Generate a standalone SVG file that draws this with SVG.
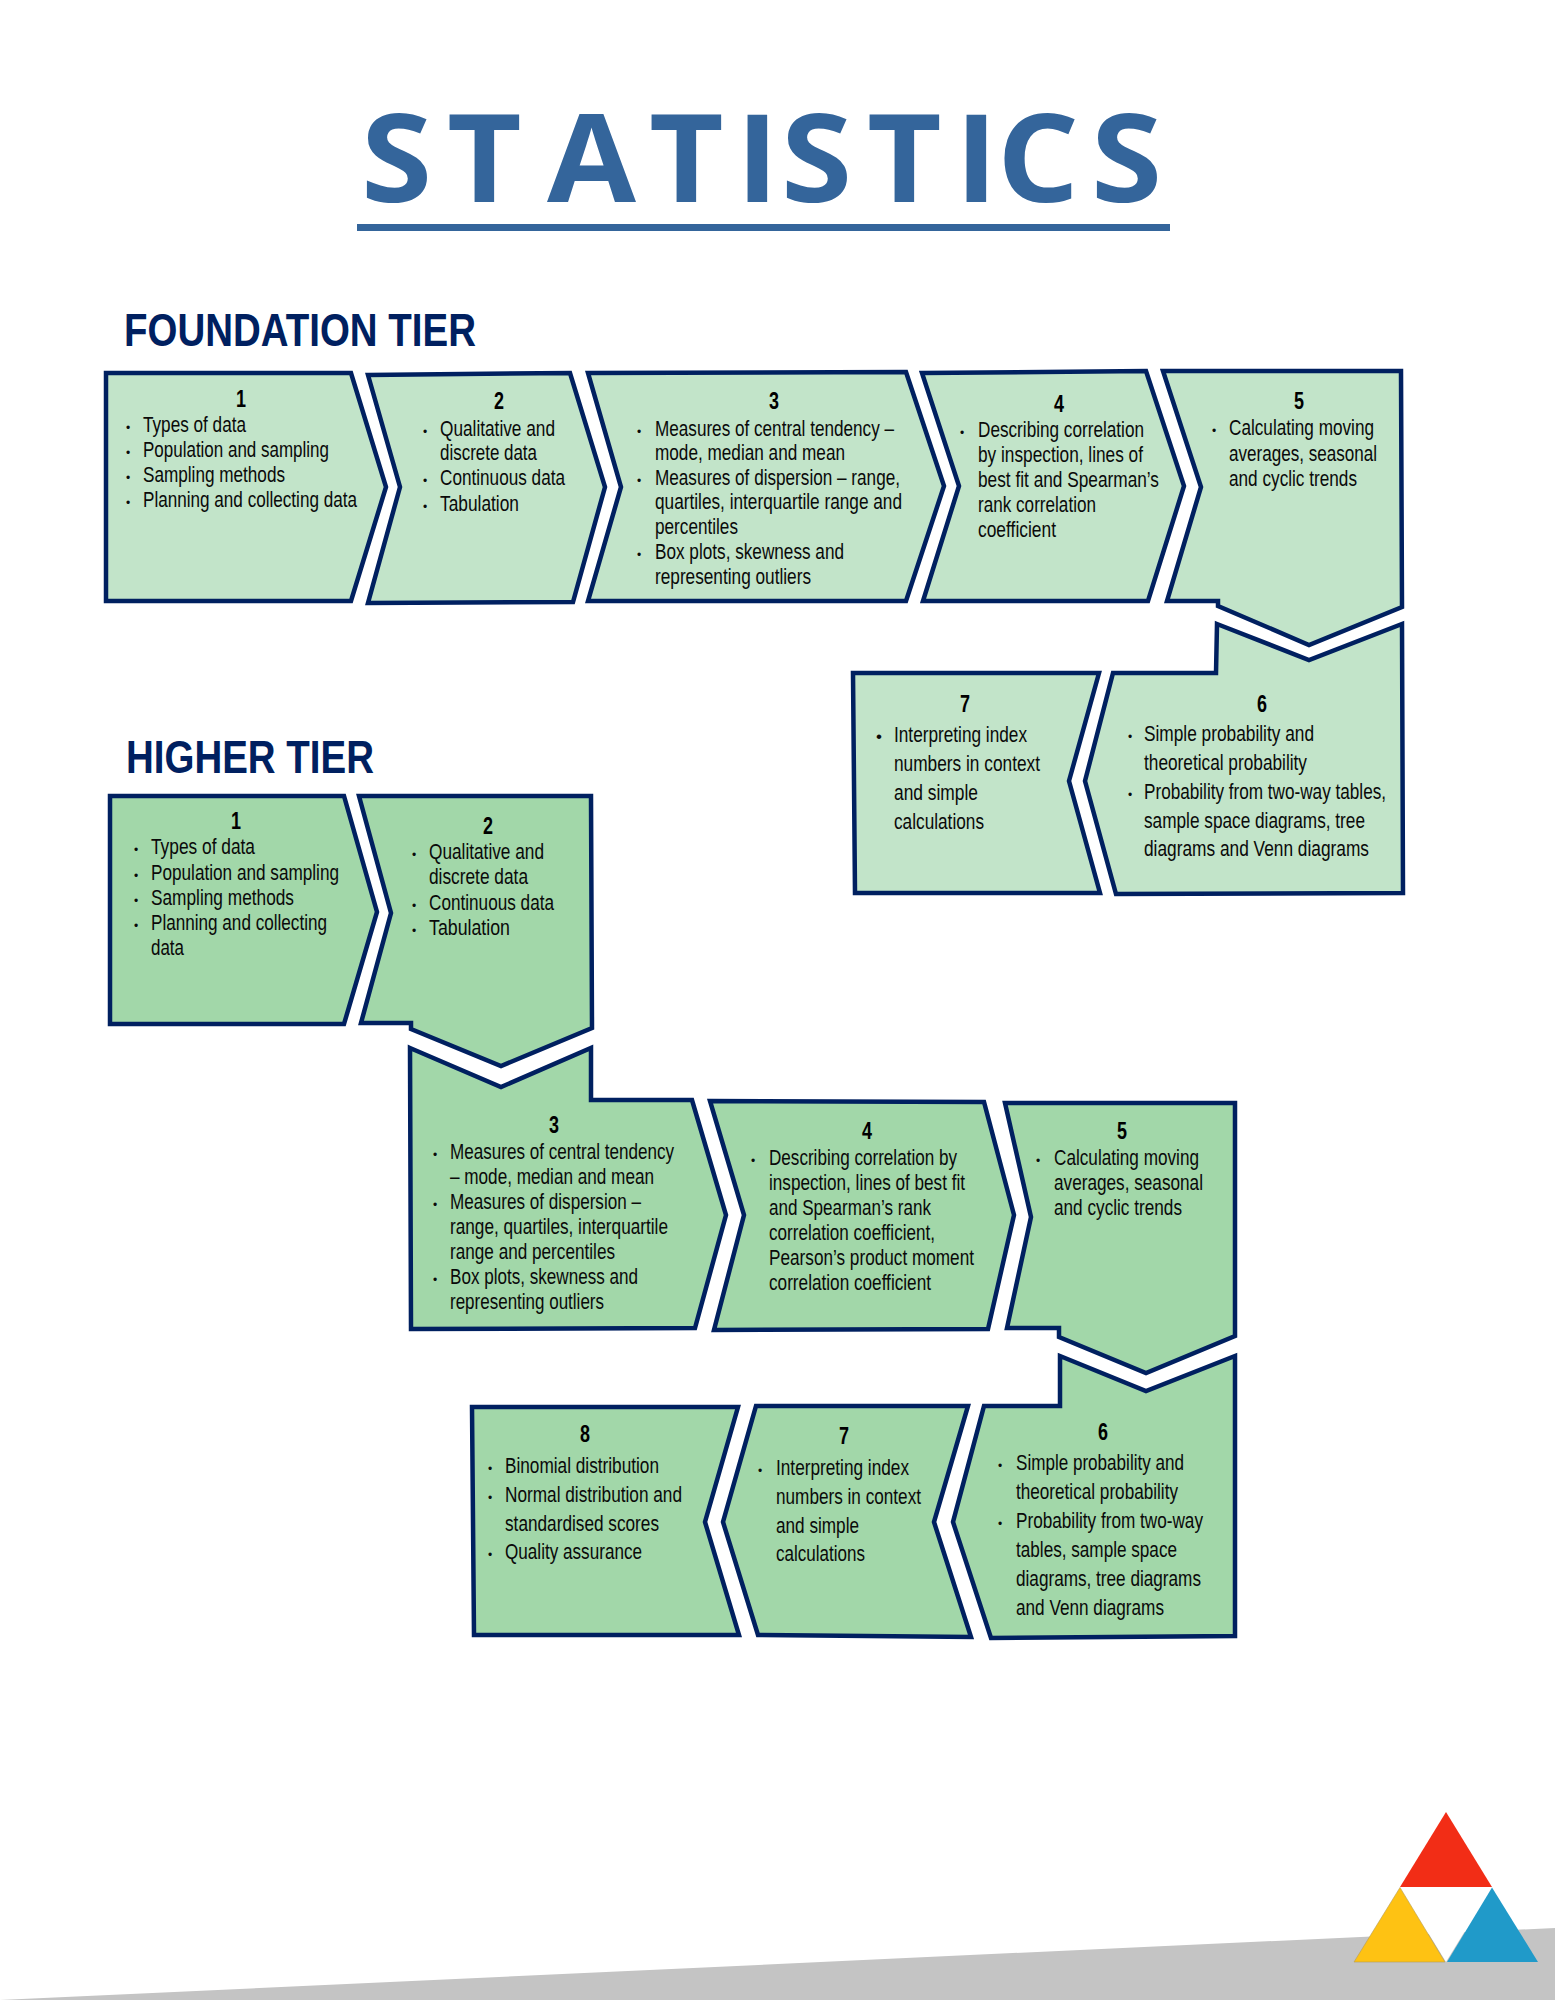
<svg xmlns="http://www.w3.org/2000/svg" width="1555" height="2000" viewBox="0 0 1555 2000">
<style>
text{font-family:"Liberation Sans",Arial,sans-serif;fill:#0a0a0a}
.f{fill:#c2e4c9;stroke:#002060;stroke-width:4.5;stroke-linejoin:miter}
.h{fill:#a2d7a9;stroke:#002060;stroke-width:4.5;stroke-linejoin:miter}
.t{font-size:21.5px;transform:translateY(.7px)}
.b{font-size:12px;text-anchor:middle;transform:translateY(.7px)}
.n{font-size:23px;font-weight:bold;text-anchor:middle;fill:#000;transform:translateY(.7px)}
.head{font-size:47px;font-weight:bold;fill:#002060}
.title{font-family:"Open Sans",sans-serif;font-size:129px;font-weight:bold;fill:#34659b}
</style>
<rect width="1555" height="2000" fill="#fff"/>
<polygon points="0,2000 1555,1928 1555,2000" fill="#c4c4c4"/>
<g id="title">
<text class="title" x="361 447 547 649 736 781 867 955 997 1091" y="0" transform="translate(0,202) scale(1,.95)">STATISTICS</text>
<rect x="357" y="224" width="813" height="7" fill="#34659b"/>
</g>
<g id="foundation-heading"><text class="head" x="124" y="346" textLength="352" lengthAdjust="spacingAndGlyphs">FOUNDATION TIER</text></g>
<g id="higher-heading"><text class="head" x="126" y="773" textLength="248" lengthAdjust="spacingAndGlyphs">HIGHER TIER</text></g>

<g id="foundation-1">
<polygon class="f" points="106,373 351,373 386,487 351,601 106,601"/>
<text class="n" x="241" y="406" textLength="10" lengthAdjust="spacingAndGlyphs">1</text>
<text class="b" x="128" y="431">•</text><text class="t" x="143" y="431" textLength="103" lengthAdjust="spacingAndGlyphs">Types of data</text>
<text class="b" x="128" y="456">•</text><text class="t" x="143" y="456" textLength="186" lengthAdjust="spacingAndGlyphs">Population and sampling</text>
<text class="b" x="128" y="481">•</text><text class="t" x="143" y="481" textLength="142" lengthAdjust="spacingAndGlyphs">Sampling methods</text>
<text class="b" x="128" y="506">•</text><text class="t" x="143" y="506" textLength="214" lengthAdjust="spacingAndGlyphs">Planning and collecting data</text>
</g>
<g id="foundation-2">
<polygon class="f" points="368,375 570,373 605,487 573,602 368,603 400,487"/>
<text class="n" x="499" y="408" textLength="10" lengthAdjust="spacingAndGlyphs">2</text>
<text class="b" x="425" y="435">•</text><text class="t" x="440" y="435" textLength="115" lengthAdjust="spacingAndGlyphs">Qualitative and</text>
<text class="t" x="440" y="459" textLength="97" lengthAdjust="spacingAndGlyphs">discrete data</text>
<text class="b" x="425" y="484">•</text><text class="t" x="440" y="484" textLength="125" lengthAdjust="spacingAndGlyphs">Continuous data</text>
<text class="b" x="425" y="510">•</text><text class="t" x="440" y="510" textLength="79" lengthAdjust="spacingAndGlyphs">Tabulation</text>
</g>
<g id="foundation-3">
<polygon class="f" points="588,373 906,372 944,486 906,601 588,601 621,487"/>
<text class="n" x="774" y="408" textLength="10" lengthAdjust="spacingAndGlyphs">3</text>
<text class="b" x="639" y="435">•</text><text class="t" x="655" y="435" textLength="239" lengthAdjust="spacingAndGlyphs">Measures of central tendency –</text>
<text class="t" x="655" y="459" textLength="190" lengthAdjust="spacingAndGlyphs">mode, median and mean</text>
<text class="b" x="639" y="484">•</text><text class="t" x="655" y="484" textLength="245" lengthAdjust="spacingAndGlyphs">Measures of dispersion – range,</text>
<text class="t" x="655" y="508" textLength="247" lengthAdjust="spacingAndGlyphs">quartiles, interquartile range and</text>
<text class="t" x="655" y="533" textLength="83" lengthAdjust="spacingAndGlyphs">percentiles</text>
<text class="b" x="639" y="558">•</text><text class="t" x="655" y="558" textLength="189" lengthAdjust="spacingAndGlyphs">Box plots, skewness and</text>
<text class="t" x="655" y="583" textLength="156" lengthAdjust="spacingAndGlyphs">representing outliers</text>
</g>
<g id="foundation-4">
<polygon class="f" points="922,373 1146,371 1184,486 1148,601 923,601 959,486"/>
<text class="n" x="1059" y="411" textLength="10" lengthAdjust="spacingAndGlyphs">4</text>
<text class="b" x="962" y="436">•</text><text class="t" x="978" y="436" textLength="166" lengthAdjust="spacingAndGlyphs">Describing correlation</text>
<text class="t" x="978" y="461" textLength="165" lengthAdjust="spacingAndGlyphs">by inspection, lines of</text>
<text class="t" x="978" y="486" textLength="181" lengthAdjust="spacingAndGlyphs">best fit and Spearman’s</text>
<text class="t" x="978" y="511" textLength="118" lengthAdjust="spacingAndGlyphs">rank correlation</text>
<text class="t" x="978" y="536" textLength="78" lengthAdjust="spacingAndGlyphs">coefficient</text>
</g>
<g id="foundation-5">
<polygon class="f" points="1163,371 1401,371 1402,607 1309,645 1218,606 1218,601 1167,601 1201,487"/>
<text class="n" x="1299" y="408" textLength="10" lengthAdjust="spacingAndGlyphs">5</text>
<text class="b" x="1214" y="434">•</text><text class="t" x="1229" y="434" textLength="145" lengthAdjust="spacingAndGlyphs">Calculating moving</text>
<text class="t" x="1229" y="460" textLength="148" lengthAdjust="spacingAndGlyphs">averages, seasonal</text>
<text class="t" x="1229" y="485" textLength="128" lengthAdjust="spacingAndGlyphs">and cyclic trends</text>
</g>
<g id="foundation-6">
<polygon class="f" points="1217,624 1309,660 1402,624 1403,893 1116,894 1085,781 1113,673 1216,673"/>
<text class="n" x="1262" y="711" textLength="10" lengthAdjust="spacingAndGlyphs">6</text>
<text class="b" x="1130" y="740">•</text><text class="t" x="1144" y="740" textLength="170" lengthAdjust="spacingAndGlyphs">Simple probability and</text>
<text class="t" x="1144" y="769" textLength="163" lengthAdjust="spacingAndGlyphs">theoretical probability</text>
<text class="b" x="1130" y="798">•</text><text class="t" x="1144" y="798" textLength="242" lengthAdjust="spacingAndGlyphs">Probability from two-way tables,</text>
<text class="t" x="1144" y="827" textLength="221" lengthAdjust="spacingAndGlyphs">sample space diagrams, tree</text>
<text class="t" x="1144" y="855" textLength="225" lengthAdjust="spacingAndGlyphs">diagrams and Venn diagrams</text>
</g>
<g id="foundation-7">
<polygon class="f" points="853,673 1099,673 1069,781 1100,893 855,893"/>
<text class="n" x="965" y="711" textLength="10" lengthAdjust="spacingAndGlyphs">7</text>
<text class="b" x="879" y="741" style="font-size:17px">•</text><text class="t" x="894" y="741" textLength="133" lengthAdjust="spacingAndGlyphs">Interpreting index</text>
<text class="t" x="894" y="770" textLength="146" lengthAdjust="spacingAndGlyphs">numbers in context</text>
<text class="t" x="894" y="799" textLength="84" lengthAdjust="spacingAndGlyphs">and simple</text>
<text class="t" x="894" y="828" textLength="90" lengthAdjust="spacingAndGlyphs">calculations</text>
</g>

<g id="higher-1">
<polygon class="h" points="110,796 344,796 377,912 344,1024 110,1024"/>
<text class="n" x="236" y="828" textLength="10" lengthAdjust="spacingAndGlyphs">1</text>
<text class="b" x="136" y="853">•</text><text class="t" x="151" y="853" textLength="104" lengthAdjust="spacingAndGlyphs">Types of data</text>
<text class="b" x="136" y="879">•</text><text class="t" x="151" y="879" textLength="188" lengthAdjust="spacingAndGlyphs">Population and sampling</text>
<text class="b" x="136" y="904">•</text><text class="t" x="151" y="904" textLength="143" lengthAdjust="spacingAndGlyphs">Sampling methods</text>
<text class="b" x="136" y="929">•</text><text class="t" x="151" y="929" textLength="176" lengthAdjust="spacingAndGlyphs">Planning and collecting</text>
<text class="t" x="151" y="954" textLength="33" lengthAdjust="spacingAndGlyphs">data</text>
</g>
<g id="higher-2">
<polygon class="h" points="359,796 591,796 592,1028 501,1066 411,1029 411,1023 361,1023 391,913"/>
<text class="n" x="488" y="833" textLength="10" lengthAdjust="spacingAndGlyphs">2</text>
<text class="b" x="414" y="858">•</text><text class="t" x="429" y="858" textLength="115" lengthAdjust="spacingAndGlyphs">Qualitative and</text>
<text class="t" x="429" y="883" textLength="99" lengthAdjust="spacingAndGlyphs">discrete data</text>
<text class="b" x="414" y="909">•</text><text class="t" x="429" y="909" textLength="125" lengthAdjust="spacingAndGlyphs">Continuous data</text>
<text class="b" x="414" y="934">•</text><text class="t" x="429" y="934" textLength="81" lengthAdjust="spacingAndGlyphs">Tabulation</text>
</g>
<g id="higher-3">
<polygon class="h" points="410,1048 501,1087 591,1048 591,1100 692,1100 726,1215 695,1328 411,1329"/>
<text class="n" x="554" y="1132" textLength="10" lengthAdjust="spacingAndGlyphs">3</text>
<text class="b" x="435" y="1158">•</text><text class="t" x="450" y="1158" textLength="224" lengthAdjust="spacingAndGlyphs">Measures of central tendency</text>
<text class="t" x="450" y="1183" textLength="204" lengthAdjust="spacingAndGlyphs">– mode, median and mean</text>
<text class="b" x="435" y="1208">•</text><text class="t" x="450" y="1208" textLength="191" lengthAdjust="spacingAndGlyphs">Measures of dispersion –</text>
<text class="t" x="450" y="1233" textLength="218" lengthAdjust="spacingAndGlyphs">range, quartiles, interquartile</text>
<text class="t" x="450" y="1258" textLength="165" lengthAdjust="spacingAndGlyphs">range and percentiles</text>
<text class="b" x="435" y="1283">•</text><text class="t" x="450" y="1283" textLength="188" lengthAdjust="spacingAndGlyphs">Box plots, skewness and</text>
<text class="t" x="450" y="1308" textLength="154" lengthAdjust="spacingAndGlyphs">representing outliers</text>
</g>
<g id="higher-4">
<polygon class="h" points="710,1101 984,1102 1014,1215 988,1329 714,1330 744,1215"/>
<text class="n" x="867" y="1138" textLength="10" lengthAdjust="spacingAndGlyphs">4</text>
<text class="b" x="753" y="1164">•</text><text class="t" x="769" y="1164" textLength="188" lengthAdjust="spacingAndGlyphs">Describing correlation by</text>
<text class="t" x="769" y="1189" textLength="196" lengthAdjust="spacingAndGlyphs">inspection, lines of best fit</text>
<text class="t" x="769" y="1214" textLength="162" lengthAdjust="spacingAndGlyphs">and Spearman’s rank</text>
<text class="t" x="769" y="1239" textLength="166" lengthAdjust="spacingAndGlyphs">correlation coefficient,</text>
<text class="t" x="769" y="1264" textLength="205" lengthAdjust="spacingAndGlyphs">Pearson’s product moment</text>
<text class="t" x="769" y="1289" textLength="162" lengthAdjust="spacingAndGlyphs">correlation coefficient</text>
</g>
<g id="higher-5">
<polygon class="h" points="1005,1103 1235,1103 1235,1336 1146,1373 1059,1337 1059,1328 1007,1328 1031,1217"/>
<text class="n" x="1122" y="1138" textLength="10" lengthAdjust="spacingAndGlyphs">5</text>
<text class="b" x="1038" y="1164">•</text><text class="t" x="1054" y="1164" textLength="145" lengthAdjust="spacingAndGlyphs">Calculating moving</text>
<text class="t" x="1054" y="1189" textLength="149" lengthAdjust="spacingAndGlyphs">averages, seasonal</text>
<text class="t" x="1054" y="1214" textLength="128" lengthAdjust="spacingAndGlyphs">and cyclic trends</text>
</g>
<g id="higher-6">
<polygon class="h" points="1060,1356 1146,1391 1235,1356 1235,1636 991,1638 953,1522 984,1406 1060,1406"/>
<text class="n" x="1103" y="1439" textLength="10" lengthAdjust="spacingAndGlyphs">6</text>
<text class="b" x="1000" y="1469">•</text><text class="t" x="1016" y="1469" textLength="168" lengthAdjust="spacingAndGlyphs">Simple probability and</text>
<text class="t" x="1016" y="1498" textLength="162" lengthAdjust="spacingAndGlyphs">theoretical probability</text>
<text class="b" x="1000" y="1527">•</text><text class="t" x="1016" y="1527" textLength="187" lengthAdjust="spacingAndGlyphs">Probability from two-way</text>
<text class="t" x="1016" y="1556" textLength="161" lengthAdjust="spacingAndGlyphs">tables, sample space</text>
<text class="t" x="1016" y="1585" textLength="185" lengthAdjust="spacingAndGlyphs">diagrams, tree diagrams</text>
<text class="t" x="1016" y="1614" textLength="148" lengthAdjust="spacingAndGlyphs">and Venn diagrams</text>
</g>
<g id="higher-7">
<polygon class="h" points="756,1406 968,1406 934,1522 971,1637 758,1635 723,1522"/>
<text class="n" x="844" y="1443" textLength="10" lengthAdjust="spacingAndGlyphs">7</text>
<text class="b" x="760" y="1474">•</text><text class="t" x="776" y="1474" textLength="133" lengthAdjust="spacingAndGlyphs">Interpreting index</text>
<text class="t" x="776" y="1503" textLength="145" lengthAdjust="spacingAndGlyphs">numbers in context</text>
<text class="t" x="776" y="1532" textLength="83" lengthAdjust="spacingAndGlyphs">and simple</text>
<text class="t" x="776" y="1560" textLength="89" lengthAdjust="spacingAndGlyphs">calculations</text>
</g>
<g id="higher-8">
<polygon class="h" points="472,1407 738,1407 705,1522 739,1635 474,1635"/>
<text class="n" x="585" y="1441" textLength="10" lengthAdjust="spacingAndGlyphs">8</text>
<text class="b" x="490" y="1472">•</text><text class="t" x="505" y="1472" textLength="154" lengthAdjust="spacingAndGlyphs">Binomial distribution</text>
<text class="b" x="490" y="1501">•</text><text class="t" x="505" y="1501" textLength="177" lengthAdjust="spacingAndGlyphs">Normal distribution and</text>
<text class="t" x="505" y="1530" textLength="154" lengthAdjust="spacingAndGlyphs">standardised scores</text>
<text class="b" x="490" y="1558">•</text><text class="t" x="505" y="1558" textLength="137" lengthAdjust="spacingAndGlyphs">Quality assurance</text>
</g>
<g id="logo">
<polygon points="1400,1887 1492,1887 1446,1962" fill="#fff"/>
<polygon points="1446,1812 1400,1887 1492,1887" fill="#f22d16"/>
<polygon points="1400,1887.5 1354,1962 1445,1962" fill="#fec213" stroke="#b39a55" stroke-width=".6"/>
<polygon points="1492,1887.5 1447,1962 1538,1962" fill="#209ac9"/>
</g>
</svg>
